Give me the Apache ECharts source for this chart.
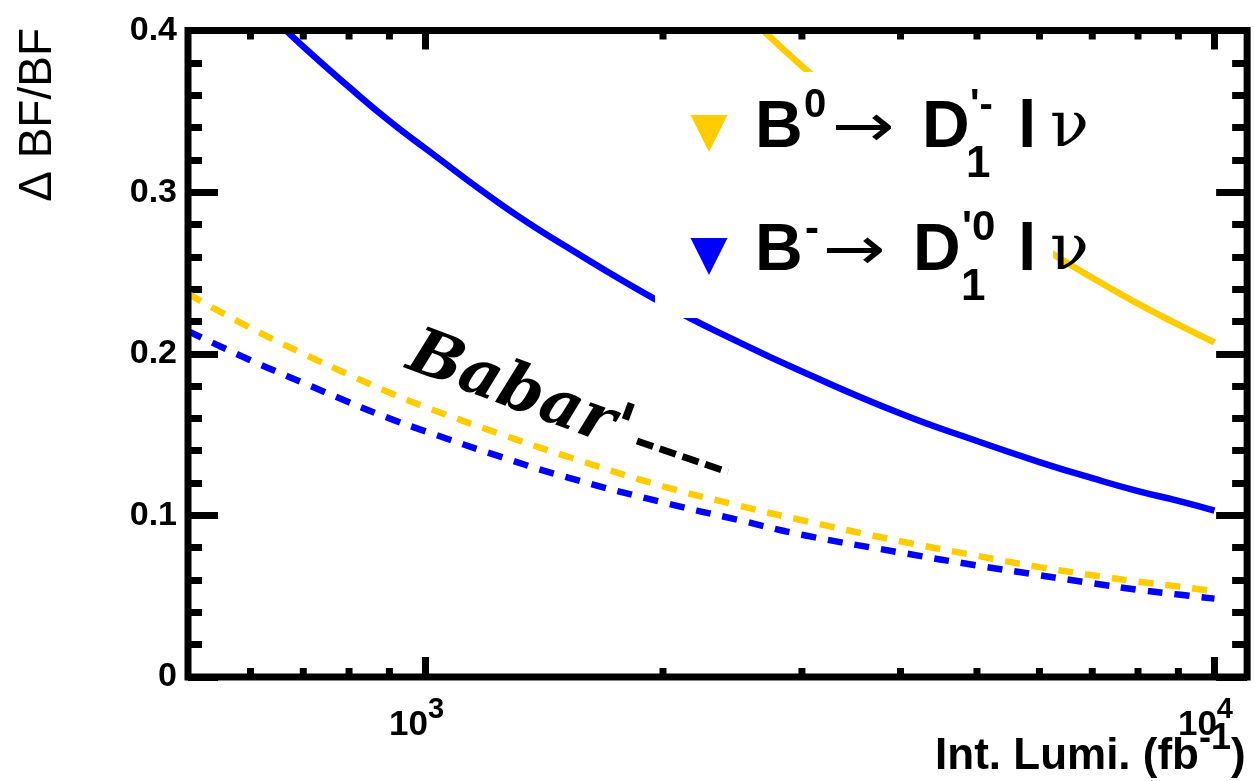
<!DOCTYPE html>
<html>
<head>
<meta charset="utf-8">
<script src="https://cdn.jsdelivr.net/npm/echarts@6/dist/echarts.min.js"></script>
<style>
  html, body { margin: 0; padding: 0; background: #ffffff; }
  #chart { width: 1254px; height: 781px; }
</style>
</head>
<body>
<div id="chart"></div>
<script>
// Integrated luminosity (fb^-1) sample points
const lumi = [500, 600, 700, 800, 900, 1000, 1250, 1500, 2000, 2500, 3000, 4000, 5000, 6000, 7000, 8000, 9000, 10000];

// Relative BF uncertainty, Babar' projection (dashed)
const bzBabar = [0.237, 0.216, 0.200, 0.187, 0.176, 0.167, 0.150, 0.137, 0.118, 0.106, 0.097, 0.084, 0.075, 0.068, 0.063, 0.059, 0.056, 0.053];
const bmBabar = [0.214, 0.196, 0.182, 0.170, 0.160, 0.152, 0.136, 0.124, 0.108, 0.097, 0.088, 0.077, 0.069, 0.063, 0.058, 0.054, 0.051, 0.0485];

// Relative BF uncertainty, solid curves
const lumiBm = [650, 700, 800, 900, 1000, 1250, 1500, 2000, 2500, 3000, 4000, 5000, 6000, 7000, 8000, 9000, 10000];
const bmSolid = [0.405, 0.390, 0.365, 0.344, 0.327, 0.292, 0.267, 0.231, 0.207, 0.189, 0.163, 0.146, 0.133, 0.123, 0.115, 0.109, 0.103];
const lumiBz = [2600, 3000, 3500, 4000, 5000, 6000, 7000, 8000, 9000, 10000];
const bzSolid = [0.406, 0.378, 0.350, 0.327, 0.293, 0.267, 0.247, 0.231, 0.218, 0.207];

// Axis ranges and tick values
const X_MIN = 500, X_MAX = 11000;
const Y_MIN = 0, Y_MAX = 0.4;
const xMajorTicks = [1000, 10000];
const xMinorTicks = [600, 700, 800, 900, 2000, 3000, 4000, 5000, 6000, 7000, 8000, 9000];

const ORANGE = '#FFCC00';
const BLUE = '#0000FF';
const SANS = "'Liberation Sans', Arial, Helvetica, sans-serif";

const zip = (xs, ys) => xs.map((x, i) => [x, ys[i]]);

const chart = echarts.init(document.getElementById('chart'), null, { renderer: 'canvas' });

function lineSeries(name, xs, ys, color, dashed) {
  return {
    name: name,
    type: 'line',
    data: zip(xs, ys),
    symbol: 'none',
    smooth: 0.5,
    clip: true,
    lineStyle: { color: color, width: 6.5, type: dashed ? [15, 12] : 'solid', cap: 'butt' },
    z: 3
  };
}

const tickData = xMinorTicks.map(v => [v, 0]).concat(xMajorTicks.map(v => [v, 1]));

chart.setOption({
  animation: false,
  backgroundColor: '#ffffff',
  grid: { left: 188, top: 30.5, right: 3.5, bottom: 104, containLabel: false },
  xAxis: {
    type: 'log', logBase: 10, min: X_MIN, max: X_MAX,
    axisLine: { show: false }, axisTick: { show: false }, splitLine: { show: false },
    axisLabel: {
      margin: 18,
      formatter: function (v) {
        const e = Math.log10(v);
        if (Math.abs(e - Math.round(e)) < 1e-6) return '{b|10}{s|' + Math.round(e) + '}';
        return '';
      },
      rich: {
        b: { fontSize: 35, fontWeight: 'bold', fontFamily: SANS, color: '#000', lineHeight: 60 },
        s: { fontSize: 29, fontWeight: 'bold', fontFamily: SANS, color: '#000', lineHeight: 24, verticalAlign: 'top', padding: [0, 18, 0, 0] }
      }
    }
  },
  yAxis: [{
    type: 'value', min: Y_MIN, max: Y_MAX, interval: 0.1, position: 'left',
    axisLine: { show: false }, splitLine: { show: false },
    axisTick: { show: true, inside: true, length: 30, lineStyle: { color: '#000', width: 7 } },
    minorTick: { show: true, splitNumber: 5, length: 14, lineStyle: { color: '#000', width: 7 } },
    axisLabel: {
      margin: 11, color: '#000', fontSize: 34, fontWeight: 'bold', fontFamily: SANS,
      formatter: v => (v === 0 ? '0' : v.toFixed(1))
    }
  }, {
    type: 'value', min: Y_MIN, max: Y_MAX, interval: 0.1, position: 'right',
    axisLine: { show: false }, splitLine: { show: false },
    axisTick: { show: true, inside: true, length: 31, lineStyle: { color: '#000', width: 7 } },
    minorTick: { show: true, splitNumber: 5, length: 15, lineStyle: { color: '#000', width: 7 } },
    axisLabel: { show: false }
  }],
  series: [
    lineSeries("B0 Babar'", lumi, bzBabar, ORANGE, true),
    lineSeries("B- Babar'", lumi, bmBabar, BLUE, true),
    lineSeries('B-', lumiBm, bmSolid, BLUE, false),
    lineSeries('B0', lumiBz, bzSolid, ORANGE, false),
    {
      name: 'x ticks',
      type: 'custom',
      data: tickData,
      clip: false,
      z: 40,
      renderItem: function (params, api) {
        const v = api.value(0);
        const major = api.value(1) === 1;
        const b = api.coord([v, Y_MIN]);
        const t = api.coord([v, Y_MAX]);
        const lb = major ? 20 : 9;
        const lt = major ? 19 : 9;
        return {
          type: 'group',
          children: [
            { type: 'rect', shape: { x: b[0] - 3.5, y: b[1] - lb, width: 7, height: lb }, style: { fill: '#000' } },
            { type: 'rect', shape: { x: t[0] - 3.5, y: t[1], width: 7, height: lt }, style: { fill: '#000' } }
          ]
        };
      }
    }
  ]
});

// Text helper: place text by its alphabetic baseline
function txt(text, x, baseline, size, opt) {
  opt = opt || {};
  const family = opt.family || SANS;
  return {
    type: 'text',
    x: x,
    y: baseline - 0.3465 * size,
    z: 60,
    scaleX: opt.scaleX || 1,
    style: {
      text: text,
      font: (opt.style || 'normal') + ' ' + (opt.weight || 'bold') + ' ' + size + 'px ' + family,
      fill: opt.color || '#000',
      align: opt.align || 'left', textAlign: opt.align || 'left',
      verticalAlign: 'middle', textVerticalAlign: 'middle'
    }
  };
}

function arrow(x, cy) {
  return {
    type: 'text', x: x, y: cy, z: 60, scaleX: 1.25,
    style: {
      text: '→', font: 'normal normal 60px "DejaVu Sans"', fill: '#000',
      align: 'left', textAlign: 'left', verticalAlign: 'middle', textVerticalAlign: 'middle'
    }
  };
}

function marker(cx, topY, color) {
  return {
    type: 'polygon', z: 60,
    shape: { points: [[cx - 18.5, topY], [cx + 18.5, topY], [cx, topY + 37]] },
    style: { fill: color }
  };
}

const p0 = chart.convertToPixel({ gridIndex: 0 }, [X_MIN, Y_MIN]);
const p1 = chart.convertToPixel({ gridIndex: 0 }, [X_MAX, Y_MAX]);

const NU = "'DejaVu Serif', 'Liberation Serif', serif";

chart.setOption({
  graphic: [
    // plot frame
    {
      type: 'rect', z: 50,
      shape: { x: p0[0], y: p1[1], width: p1[0] - p0[0], height: p0[1] - p1[1] },
      style: { fill: 'none', stroke: '#000', lineWidth: 7 }
    },
    // legend background
    {
      type: 'rect', z: 45,
      shape: { x: 655, y: 72, width: 398, height: 246 },
      style: { fill: '#ffffff' }
    },
    marker(709, 115, ORANGE),
    marker(709, 238, BLUE),
    // B0 -> D1'- l nu
    txt('B', 755, 152, 66),
    txt('0', 804, 120, 40),
    arrow(832, 130),
    txt('D', 922, 152, 66),
    txt("'-", 970, 120, 40),
    txt('1', 966, 180, 44),
    txt('l', 1018, 152, 66),
    txt('ν', 1050, 152, 64, { family: NU, weight: 'normal' }),
    // B- -> D1'0 l nu
    txt('B', 755, 275, 66),
    txt('-', 805, 245, 42),
    arrow(823, 253),
    txt('D', 913, 275, 66),
    txt("'0", 962, 243, 42),
    txt('1', 961, 303, 44),
    txt('l', 1018, 275, 66),
    txt('ν', 1050, 275, 64, { family: NU, weight: 'normal' }),
    // Babar' annotation with its dashed sample
    {
      type: 'text', x: 410, y: 352, rotation: -0.36, z: 60,
      style: {
        text: "Babar'", font: 'italic bold 64px "DejaVu Serif"', fill: '#000',
        align: 'left', textAlign: 'left', verticalAlign: 'middle', textVerticalAlign: 'middle'
      }
    },
    {
      type: 'line', z: 60,
      shape: { x1: 637, y1: 441, x2: 728, y2: 472 },
      style: { stroke: '#000', lineWidth: 7, lineDash: [17, 7] }
    },
    // axis titles
    {
      type: 'text', x: 38, y: 28, rotation: Math.PI / 2, z: 60,
      style: {
        text: 'Δ BF/BF', font: 'normal normal 46px ' + SANS, fill: '#000',
        align: 'right', textAlign: 'right', verticalAlign: 'middle', textVerticalAlign: 'middle'
      }
    },
    txt('Int. Lumi. (fb', 1199, 772, 44, { align: 'right' }),
    txt('-1', 1199, 752, 36),
    txt(')', 1231, 772, 44)
  ]
});
</script>
</body>
</html>
